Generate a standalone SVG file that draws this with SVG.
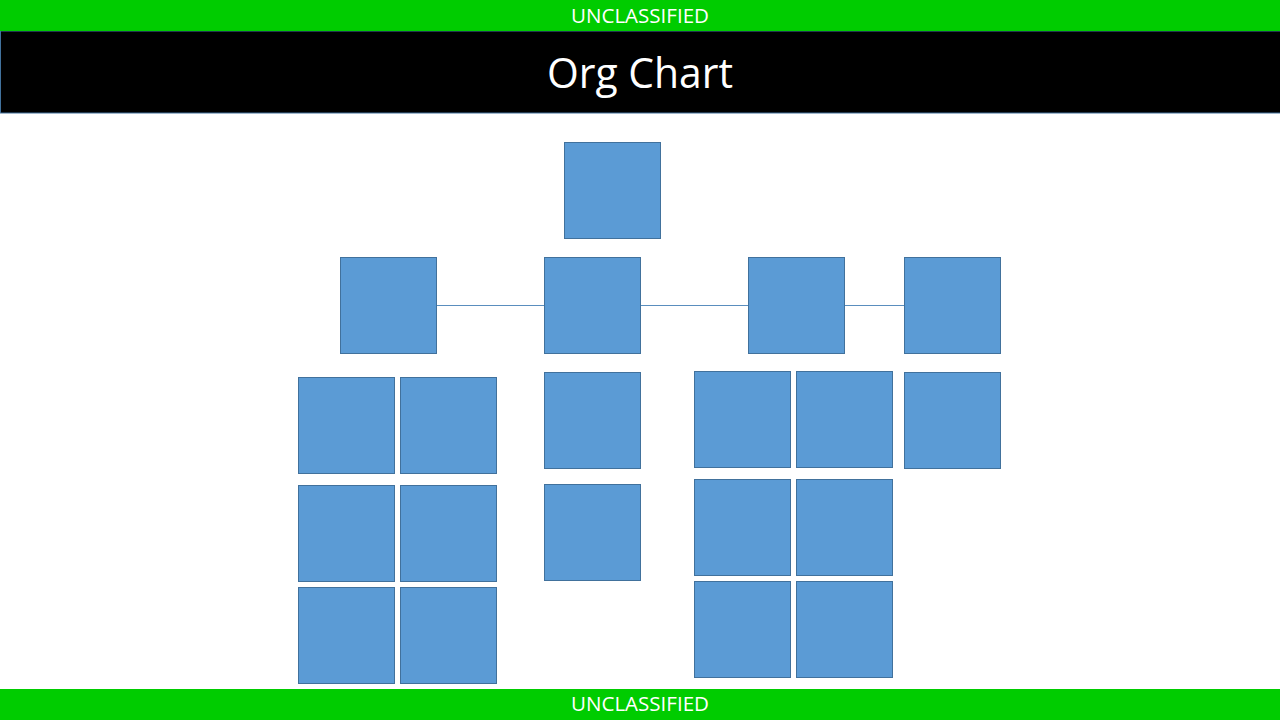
<svg xmlns="http://www.w3.org/2000/svg" width="1280" height="720" viewBox="0 0 1280 720">
<style>
.box{fill:#5B9BD5;stroke:#41719C;stroke-width:1}
.conn{stroke:#5A8EBE;stroke-width:1;fill:none}
.banner{fill:#00CC00}
.btxt{font-family:"Open Sans","Liberation Sans",sans-serif;font-size:20px;fill:#FFFFFF;text-anchor:middle}
.title{font-family:"Open Sans","Liberation Sans",sans-serif;font-size:42px;fill:#FFFFFF;text-anchor:middle}
</style>
<rect x="0" y="0" width="1280" height="720" fill="#FFFFFF"/>
<rect x="0.5" y="31" width="1281" height="82" fill="#000000" stroke="#41719C" stroke-width="1"/>
<rect class="banner" x="0" y="0" width="1280" height="31"/>
<rect class="banner" x="0" y="689" width="1280" height="31"/>
<text class="btxt" x="640" y="23" textLength="138" lengthAdjust="spacingAndGlyphs">UNCLASSIFIED</text>
<text class="btxt" x="640" y="711" textLength="138" lengthAdjust="spacingAndGlyphs">UNCLASSIFIED</text>
<text class="title" x="640" y="88" textLength="186" lengthAdjust="spacingAndGlyphs">Org Chart</text>
<g id="connectors">
<line class="conn" x1="436" y1="305.5" x2="544" y2="305.5"/>
<line class="conn" x1="640" y1="305.5" x2="748" y2="305.5"/>
<line class="conn" x1="844" y1="305.5" x2="904" y2="305.5"/>
</g>
<g id="top"><rect class="box" x="564.5" y="142.5" width="96" height="96"/></g>
<g id="l2a"><rect class="box" x="340.5" y="257.5" width="96" height="96"/></g>
<g id="l2b"><rect class="box" x="544.5" y="257.5" width="96" height="96"/></g>
<g id="l2c"><rect class="box" x="748.5" y="257.5" width="96" height="96"/></g>
<g id="l2d"><rect class="box" x="904.5" y="257.5" width="96" height="96"/></g>
<g id="a1"><rect class="box" x="298.5" y="377.5" width="96" height="96"/></g>
<g id="a2"><rect class="box" x="400.5" y="377.5" width="96" height="96"/></g>
<g id="a3"><rect class="box" x="298.5" y="485.5" width="96" height="96"/></g>
<g id="a4"><rect class="box" x="400.5" y="485.5" width="96" height="96"/></g>
<g id="a5"><rect class="box" x="298.5" y="587.5" width="96" height="96"/></g>
<g id="a6"><rect class="box" x="400.5" y="587.5" width="96" height="96"/></g>
<g id="b1"><rect class="box" x="544.5" y="372.5" width="96" height="96"/></g>
<g id="b2"><rect class="box" x="544.5" y="484.5" width="96" height="96"/></g>
<g id="c1"><rect class="box" x="694.5" y="371.5" width="96" height="96"/></g>
<g id="c2"><rect class="box" x="796.5" y="371.5" width="96" height="96"/></g>
<g id="c3"><rect class="box" x="694.5" y="479.5" width="96" height="96"/></g>
<g id="c4"><rect class="box" x="796.5" y="479.5" width="96" height="96"/></g>
<g id="c5"><rect class="box" x="694.5" y="581.5" width="96" height="96"/></g>
<g id="c6"><rect class="box" x="796.5" y="581.5" width="96" height="96"/></g>
<g id="d1"><rect class="box" x="904.5" y="372.5" width="96" height="96"/></g>
</svg>
